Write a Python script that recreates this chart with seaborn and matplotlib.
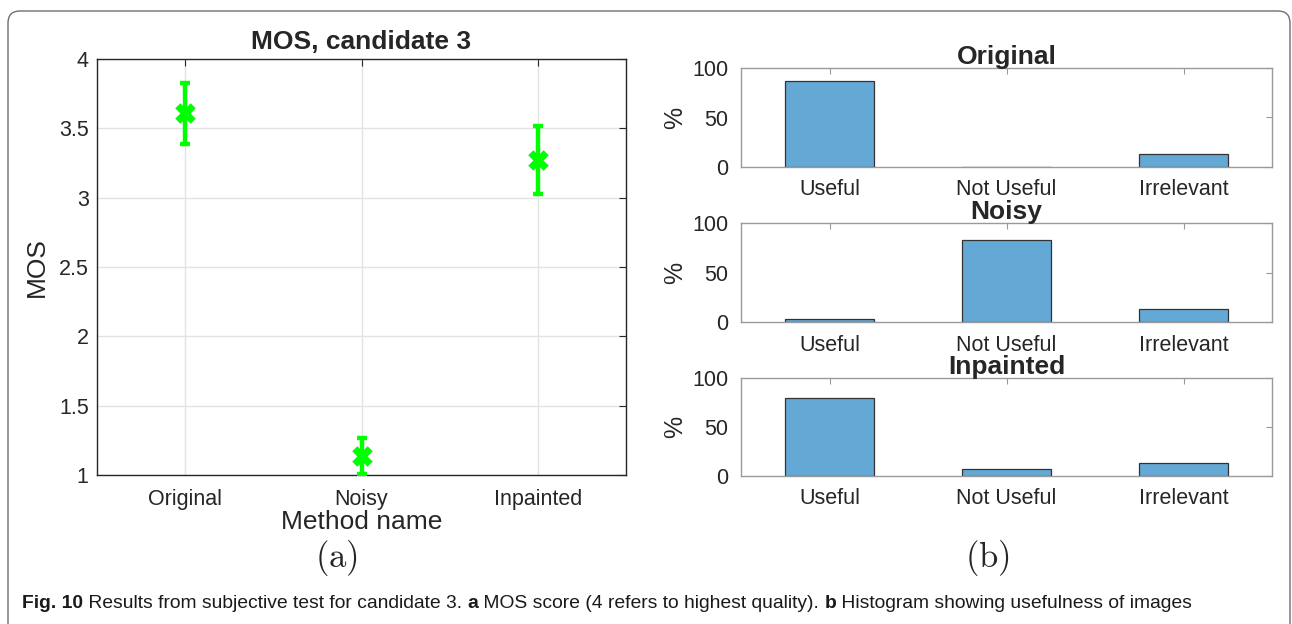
import numpy as np
import pandas as pd
import matplotlib
matplotlib.use('Agg')
import matplotlib.pyplot as plt
from matplotlib.patches import FancyBboxPatch
from matplotlib.ticker import FormatStrFormatter
import seaborn as sns

# MOS data (panel a)
methods = ['Original', 'Noisy', 'Inpainted']
mos_mean = [3.61, 1.14, 3.27]
mos_err = [0.22, 0.13, 0.245]

# usefulness histogram data (panel b), in %
classes = ['Useful', 'Not Useful', 'Irrelevant']
pct_original = [86.7, 0.0, 13.3]
pct_noisy = [3.3, 83.3, 13.3]
pct_inpainted = [80.0, 6.7, 13.3]

sns.set_style('white')
plt.rcParams['font.family'] = ['Liberation Sans', 'DejaVu Sans']
plt.rcParams['mathtext.fontset'] = 'cm'

fig = plt.figure(figsize=(12.92, 6.24), dpi=100)
W, H = 1292, 624

def px_axes(x0, y0, x1, y1):
    return fig.add_axes([x0 / W, 1 - y1 / H, (x1 - x0) / W, (y1 - y0) / H])

# outer frame
frame = FancyBboxPatch((0.08, -0.3), 12.82, 6.43, boxstyle='round,pad=0,rounding_size=0.12',
                       transform=fig.dpi_scale_trans, facecolor='none', edgecolor='#6e6e6e', lw=1.0)
fig.patches.append(frame)

# ---- panel (a) ----
ax = px_axes(97, 59, 626, 475)
df_mos = pd.DataFrame({'method': methods, 'mos': mos_mean, 'err': mos_err})
ax.errorbar(np.arange(len(methods)), df_mos['mos'], yerr=df_mos['err'], fmt='none',
            ecolor='#00ff00', elinewidth=3.2, capsize=3.5, capthick=3.2, zorder=3)
sns.scatterplot(data=df_mos, x='method', y='mos', marker='X', s=220, color='#00ff00',
                edgecolor='#00ff00', linewidth=0, ax=ax, zorder=4, legend=False)
ax.set_xlim(-0.5, 2.5)
ax.set_ylim(1, 4)
ax.set_yticks(np.arange(1, 4.01, 0.5))
ax.yaxis.set_major_formatter(FormatStrFormatter('%g'))
ax.grid(True, color='#e3e3e3', lw=1)
ax.set_axisbelow(True)
for s in ax.spines.values():
    s.set_color('#262626')
    s.set_linewidth(1.0)
ax.tick_params(direction='in', top=True, right=True, length=5, colors='#262626',
               labelsize=15.5)
ax.tick_params(axis='x', pad=10)
ax.tick_params(axis='y', pad=6)
ax.set_title('MOS, candidate 3', fontsize=19, fontweight='bold', pad=7)
ax.set_xlabel('Method name', fontsize=19, labelpad=0, color='#262626')
ax.set_ylabel('MOS', fontsize=19, labelpad=7, color='#262626')
fig.text(336 / W, 1 - 558 / H, r'$\mathrm{(a)}$', fontsize=25, ha='center', va='center')

# ---- panel (b) ----
panels = [('Original', pct_original, 68, 167),
          ('Noisy', pct_noisy, 223, 322),
          ('Inpainted', pct_inpainted, 378, 476)]
for title, vals, y0, y1 in panels:
    bx = px_axes(741, y0, 1272, y1)
    dfb = pd.DataFrame({'cls': classes, 'pct': vals})
    sns.barplot(data=dfb, x='cls', y='pct', color='#64a8d6', saturation=1, width=0.5,
                edgecolor='#333333', linewidth=0.9, ax=bx)
    bx.set_xlim(-0.5, 2.5)
    bx.set_ylim(0, 100)
    bx.set_yticks([0, 50, 100])
    bx.set_xlabel('')
    bx.set_ylabel('%', fontsize=18, labelpad=4, color='#262626')
    bx.set_title(title, fontsize=19, fontweight='bold', pad=3)
    for s in bx.spines.values():
        s.set_color('#9a9a9a')
        s.set_linewidth(1.0)
    bx.tick_params(direction='in', top=True, right=True, length=4, colors='#9a9a9a',
                   labelcolor='#262626', labelsize=15.5, pad=9)
fig.text(987 / W, 1 - 558 / H, r'$\mathrm{(b)}$', fontsize=25, ha='center', va='center')

# ---- caption ----
cap_size = 13.9
parts = [('Fig. 10', 'bold'), (' Results from subjective test for candidate 3. ', 'normal'),
         ('a', 'bold'), (' MOS score (4 refers to highest quality). ', 'normal'),
         ('b', 'bold'), (' Histogram showing usefulness of images', 'normal')]
prev = fig.text(22 / W, 1 - 608 / H, parts[0][0], fontsize=cap_size, fontweight=parts[0][1],
                va='baseline', color='#1a1a1a')
for txt, wt in parts[1:]:
    prev = plt.annotate(txt, xy=(1, 0), xycoords=prev, xytext=(0, 0), textcoords='offset points',
                        fontsize=cap_size, fontweight=wt, color='#1a1a1a', va='bottom', ha='left',
                        annotation_clip=False)

fig.savefig('out.png', dpi=100)
